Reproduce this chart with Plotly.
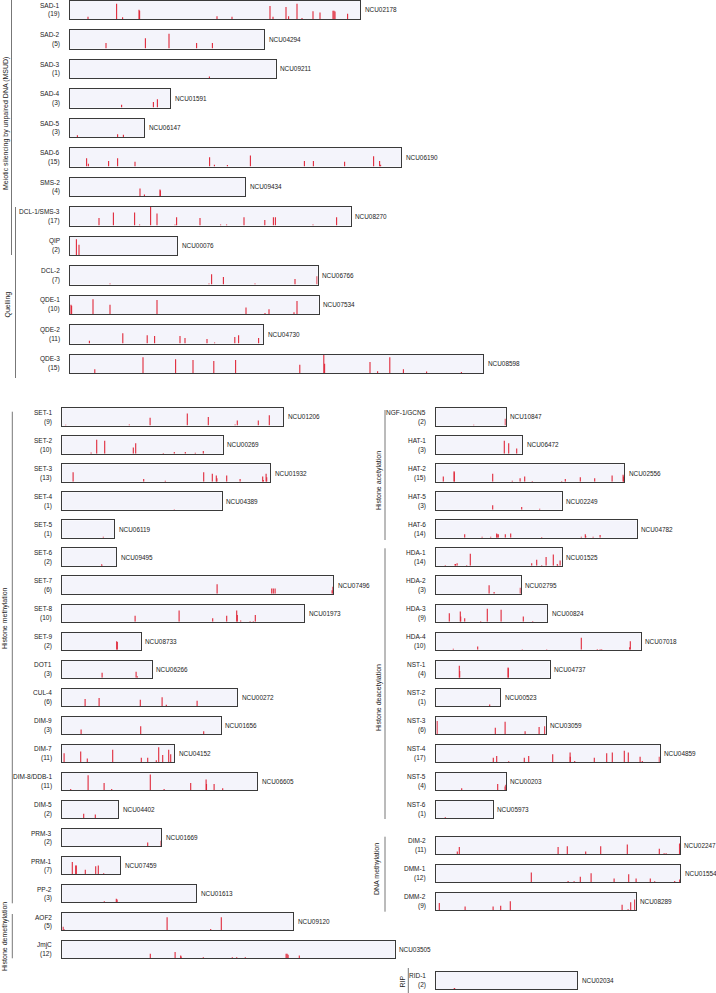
import plotly.graph_objects as go

# ---------------- data ----------------
names = ["SAD-1", "SAD-2", "SAD-3", "SAD-4", "SAD-5", "SAD-6", "SMS-2", "DCL-1/SMS-3", "QIP",
         "DCL-2", "QDE-1", "QDE-2", "QDE-3",
         "SET-1", "SET-2", "SET-3", "SET-4", "SET-5", "SET-6", "SET-7", "SET-8", "SET-9", "DOT1",
         "CUL-4", "DIM-9", "DIM-7", "DIM-8/DDB-1", "DIM-5", "PRM-3", "PRM-1", "PP-2", "AOF2", "JmjC",
         "NGF-1/GCN5", "HAT-1", "HAT-2", "HAT-5", "HAT-6", "HDA-1", "HDA-2", "HDA-3", "HDA-4",
         "NST-1", "NST-2", "NST-3", "NST-4", "NST-5", "NST-6", "DIM-2", "DMM-1", "DMM-2", "RID-1"]

gene_ids = ["NCU02178", "NCU04294", "NCU09211", "NCU01591", "NCU06147", "NCU06190", "NCU09434",
            "NCU08270", "NCU00076", "NCU06766", "NCU07534", "NCU04730", "NCU08598",
            "NCU01206", "NCU00269", "NCU01932", "NCU04389", "NCU06119", "NCU09495", "NCU07496",
            "NCU01973", "NCU08733", "NCU06266", "NCU00272", "NCU01656", "NCU04152", "NCU06605",
            "NCU04402", "NCU01669", "NCU07459", "NCU01613", "NCU09120", "NCU03505",
            "NCU10847", "NCU06472", "NCU02556", "NCU02249", "NCU04782", "NCU01525", "NCU02795",
            "NCU00824", "NCU07018", "NCU04737", "NCU00523", "NCU03059", "NCU04859", "NCU00203",
            "NCU05973", "NCU02247", "NCU01554", "NCU08289", "NCU02034"]

# protein lengths (aa)
lengths = [1450, 972, 1028, 502, 370, 1655, 875, 1403, 535, 1238, 1243, 967, 2065,
           1105, 802, 1040, 797, 260, 270, 1355, 1210, 392, 447, 874, 792, 560, 974, 279, 495,
           290, 670, 1155, 1662,
           347, 430, 940, 627, 1002, 627, 422, 555, 1022, 567, 320, 547, 1117, 347, 282,
           1218, 1220, 997, 704]

# mutation positions (aa)
positions = [
    [90, 233, 263, 345, 348, 735, 810, 1000, 1015, 1080, 1093, 1135, 1160, 1215, 1250, 1315, 1320, 1325, 1388],
    [180, 377, 495, 633, 712],
    [697],
    [258, 417, 437],
    [37, 238, 267],
    [83, 92, 193, 238, 325, 698, 722, 787, 902, 1172, 1217, 1373, 1518, 1548, 1553],
    [350, 372, 450, 452],
    [145, 217, 323, 348, 403, 435, 525, 533, 650, 753, 783, 870, 974, 1017, 1027, 1215, 1333],
    [32, 45],
    [200, 695, 708, 767, 925, 1125, 1235],
    [5, 8, 115, 200, 435, 880, 975, 995, 1120, 1135],
    [97, 264, 386, 423, 550, 575, 685, 723, 824, 843, 943],
    [124, 365, 528, 615, 719, 828, 1149, 1269, 1273, 1500, 1538, 1599, 1667, 1783, 1957],
    [17, 335, 439, 625, 730, 864, 875, 980, 1035],
    [144, 172, 212, 355, 367, 505, 560, 615, 665, 705],
    [54, 407, 515, 707, 750, 770, 773, 822, 889, 1002, 1005, 1019, 1022],
    [560],
    [205],
    [197, 198],
    [774, 1047, 1055, 1064, 1349, 1353],
    [364, 584, 752, 822, 872, 875, 892, 939, 955, 965],
    [272, 275],
    [199, 369, 375],
    [114, 184, 390, 499, 520, 674],
    [94, 392, 707],
    [9, 92, 125, 252, 395, 427, 470, 482, 502, 532, 542],
    [42, 129, 209, 247, 440, 509, 642, 719, 721, 759, 802],
    [107, 165],
    [427, 494],
    [50, 67, 70, 115, 167, 180, 207],
    [210, 270, 274],
    [4, 9, 524, 742, 795],
    [440, 564, 592, 594, 705, 850, 872, 915, 1119, 1124, 1129, 1185],
    [187, 345],
    [340, 362, 402],
    [35, 89, 90, 282, 380, 419, 442, 480, 627, 645, 720, 792, 879, 934, 936],
    [282, 427, 517],
    [142, 229, 272, 302, 304, 310, 345, 372, 527, 725, 745, 747, 784, 819],
    [45, 94, 96, 104, 152, 170, 477, 502, 527, 549, 585, 605, 607, 619],
    [264, 289, 420],
    [65, 120, 122, 142, 222, 255, 324, 435, 482],
    [85, 207, 430, 552, 725, 805, 819, 827, 967, 970],
    [115, 117, 359, 360],
    [267],
    [4, 295, 344, 444, 514, 542],
    [285, 302, 362, 440, 462, 582, 669, 670, 692, 790, 852, 880, 940, 960, 1019, 1030, 1115],
    [127, 307, 344, 346],
    [45],
    [105, 115, 609, 655, 747, 822, 955, 1115, 1139, 1149, 1216],
    [475, 659, 689, 720, 774, 889, 962, 999, 1070, 1092, 1192, 1217],
    [15, 144, 284, 322, 370, 929, 959, 972, 992],
    [90, 92],
]

# relative mutation frequency (fraction of panel height)
heights = [
    [0.12, 0.82, 0.1, 0.5, 0.45, 0.15, 0.12, 0.7, 0.12, 0.65, 0.15, 0.82, 0.05, 0.42, 0.35, 0.45, 0.45, 0.4, 0.28],
    [0.3, 0.55, 0.8, 0.3, 0.3],
    [0.08],
    [0.15, 0.3, 0.45],
    [0.1, 0.15, 0.12],
    [0.45, 0.15, 0.3, 0.45, 0.25, 0.5, 0.1, 0.08, 0.6, 0.3, 0.3, 0.25, 0.55, 0.3, 0.1],
    [0.4, 0.08, 0.35, 0.3],
    [0.4, 0.7, 0.7, 0.05, 1.0, 0.65, 0.05, 0.45, 0.4, 0.05, 0.05, 0.45, 0.3, 0.45, 0.45, 0.05, 0.45],
    [0.85, 0.55],
    [0.06, 0.05, 0.55, 0.4, 0.06, 0.3, 0.45],
    [0.5, 0.45, 0.8, 0.5, 0.75, 0.35, 0.06, 0.25, 0.1, 0.7],
    [0.15, 0.55, 0.45, 0.4, 0.4, 0.3, 0.25, 0.05, 0.35, 0.45, 0.3],
    [0.2, 0.85, 0.75, 0.7, 0.65, 0.7, 0.45, 1.0, 0.5, 0.6, 0.1, 0.85, 0.2, 0.08, 0.06],
    [0.05, 0.06, 0.45, 0.7, 0.5, 0.06, 0.3, 0.3, 0.6],
    [0.06, 0.8, 0.75, 0.35, 0.6, 0.04, 0.1, 0.1, 0.05, 0.15],
    [0.55, 0.15, 0.05, 0.55, 0.45, 0.35, 0.2, 0.35, 0.15, 0.3, 0.1, 0.45, 0.25],
    [0.03],
    [0.05],
    [0.08, 0.04],
    [0.55, 0.3, 0.3, 0.3, 0.2, 0.4],
    [0.35, 0.65, 0.2, 0.35, 0.65, 0.4, 0.08, 0.05, 0.05, 0.4],
    [0.5, 0.45],
    [0.3, 0.35, 0.1],
    [0.4, 0.45, 0.35, 0.5, 0.06, 0.3],
    [0.25, 0.45, 0.15],
    [0.5, 0.6, 0.2, 0.7, 0.25, 0.25, 0.1, 0.85, 0.4, 0.7, 0.45],
    [0.05, 0.85, 0.4, 0.06, 0.9, 0.05, 0.4, 0.6, 0.35, 0.35, 0.1],
    [0.25, 0.2],
    [0.2, 0.3],
    [0.7, 0.5, 0.5, 0.25, 0.45, 0.5, 0.05],
    [0.05, 0.2, 0.15],
    [0.2, 0.05, 0.75, 0.06, 0.75],
    [0.25, 0.35, 0.15, 0.1, 0.05, 0.05, 0.05, 0.05, 0.25, 0.25, 0.2, 0.15],
    [0.05, 0.4],
    [0.75, 0.6, 0.3],
    [0.3, 0.6, 0.55, 0.45, 0.05, 0.2, 0.3, 0.04, 0.04, 0.15, 0.25, 0.2, 0.35, 0.4, 0.3],
    [0.25, 0.15, 0.05],
    [0.2, 0.05, 0.06, 0.25, 0.2, 0.2, 0.2, 0.25, 0.04, 0.05, 0.2, 0.1, 0.05, 0.15],
    [0.04, 0.1, 0.1, 0.15, 0.04, 0.7, 0.15, 0.35, 0.05, 0.5, 0.65, 0.1, 0.05, 0.3],
    [0.5, 0.1, 0.35],
    [0.5, 0.6, 0.3, 0.2, 0.04, 0.75, 0.7, 0.3, 0.04],
    [0.06, 0.2, 0.04, 0.04, 0.7, 0.05, 0.05, 0.05, 0.15, 0.5],
    [0.7, 0.4, 0.6, 0.55],
    [0.08],
    [0.75, 0.35, 0.7, 0.15, 0.4, 0.45],
    [0.25, 0.35, 0.04, 0.25, 0.35, 0.45, 0.55, 0.3, 0.05, 0.25, 0.5, 0.55, 0.65, 0.55, 0.3, 0.05, 0.3],
    [0.1, 0.35, 0.2, 0.3],
    [0.05],
    [0.15, 0.4, 0.4, 0.45, 0.15, 0.45, 0.55, 0.3, 0.05, 0.05, 0.6],
    [0.55, 0.06, 0.05, 0.3, 0.5, 0.2, 0.45, 0.2, 0.2, 0.04, 0.06, 0.15],
    [0.4, 0.2, 0.2, 0.25, 0.5, 0.3, 0.05, 0.45, 0.6],
    [0.06, 0.04],
]

group_labels = ["Meiotic silencing by unpaired DNA (MSUD)", "Quelling", "Histone methylation",
                "Histone demethylation", "Histone acetylation", "Histone deacetylation",
                "DNA methylation", "RIP"]

# ---------------- layout constants ----------------
W, H = 716, 993
AA_PER_PX = 5.0
FONT = "Liberation Sans, Arial, Helvetica, sans-serif"
TXT = "#222222"
RED = "#e0283a"

# sections: (first panel, count, left px, first top px, row step px, box height px)
sections = [
    (0, 13, 70.0, 0.5, 29.5, 18.5),
    (13, 20, 62.3, 408.3, 28.03, 17.3),
    (33, 15, 436.3, 408.3, 28.03, 17.3),
    (48, 3, 436.3, 836.7, 28.0, 17.3),
    (51, 1, 436.3, 971.7, 28.0, 17.3),
]

slots = {}
for first, n, left, top0, step, bh in sections:
    for k in range(n):
        slots[first + k] = (left, top0 + k * step, bh)

fig = go.Figure()
layout_axes = {}
annotations = []

for i in range(len(names)):
    left, top, bh = slots[i]
    wpx = lengths[i] / AA_PER_PX
    k = i + 1
    xa = "x" if k == 1 else f"x{k}"
    ya = "y" if k == 1 else f"y{k}"
    xs, ys = [], []
    for p, h in zip(positions[i], heights[i]):
        xs += [p, p, None]
        ys += [0, h, None]
    fig.add_trace(go.Scatter(x=xs, y=ys, mode="lines", xaxis=xa, yaxis=ya,
                             line=dict(color=RED, width=1.1), hoverinfo="skip",
                             showlegend=False))
    common = dict(showticklabels=False, ticks="", showgrid=False, zeroline=False,
                  showline=True, mirror=True, linecolor="#3a3a3a", linewidth=1,
                  fixedrange=True)
    layout_axes["xaxis" if k == 1 else f"xaxis{k}"] = dict(
        domain=[left / W, (left + wpx) / W], range=[0, lengths[i]],
        anchor=ya, **common)
    layout_axes["yaxis" if k == 1 else f"yaxis{k}"] = dict(
        domain=[1 - (top + bh) / H, 1 - top / H], range=[0, 1],
        anchor=xa, **common)
    dom_x = f"{xa} domain"
    dom_y = f"{ya} domain"
    annotations.append(dict(text=names[i], xref=dom_x, yref=dom_y, x=0, y=0.5,
                            xanchor="right", yanchor="middle", xshift=-8.5, yshift=4.4,
                            showarrow=False, font=dict(size=6.5, color=TXT, family=FONT)))
    annotations.append(dict(text=f"({len(positions[i])})", xref=dom_x, yref=dom_y, x=0, y=0.5,
                            xanchor="right", yanchor="middle", xshift=-8.5, yshift=-4.6,
                            showarrow=False, font=dict(size=6.5, color=TXT, family=FONT)))
    annotations.append(dict(text=gene_ids[i], xref=dom_x, yref=dom_y, x=1, y=0.5,
                            xanchor="left", yanchor="middle", xshift=2.5,
                            showarrow=False, font=dict(size=6.4, color=TXT, family=FONT)))

# group brackets: (x px, y0 px, y1 px) and label (x px, y px)
brackets = [(11.5, 0.0, 255.0), (15.5, 207.0, 378.0), (12.3, 411.7, 903.3), (12.3, 914.0, 958.3),
            (385.0, 410.0, 540.0), (385.0, 548.3, 819.0), (385.0, 836.7, 911.7), (408.3, 968.0, 993.0)]
label_pos = [(6.0, 124.0), (7.5, 304.0), (5.0, 618.0), (5.0, 937.0),
             (379.0, 481.0), (379.0, 698.0), (377.0, 869.0), (401.5, 982.0)]

shapes = []
for (bx, y0, y1) in brackets:
    shapes.append(dict(type="line", xref="paper", yref="paper", x0=bx / W, x1=bx / W,
                       y0=1 - y0 / H, y1=1 - y1 / H, line=dict(color="#777777", width=1)))
for txt, (lx, ly) in zip(group_labels, label_pos):
    annotations.append(dict(text=txt, xref="paper", yref="paper", x=lx / W, y=1 - ly / H,
                            xanchor="center", yanchor="middle", textangle=-90, showarrow=False,
                            font=dict(size=7, color=TXT, family=FONT)))

fig.update_layout(width=W, height=H, margin=dict(l=0, r=0, t=0, b=0),
                  paper_bgcolor="white", plot_bgcolor="#f4f4fb",
                  annotations=annotations, shapes=shapes, showlegend=False,
                  **layout_axes)

fig.write_html("out.html", config={"displayModeBar": False, "staticPlot": True},
               post_script="document.body.style.margin='0';document.body.style.overflow='hidden';")
